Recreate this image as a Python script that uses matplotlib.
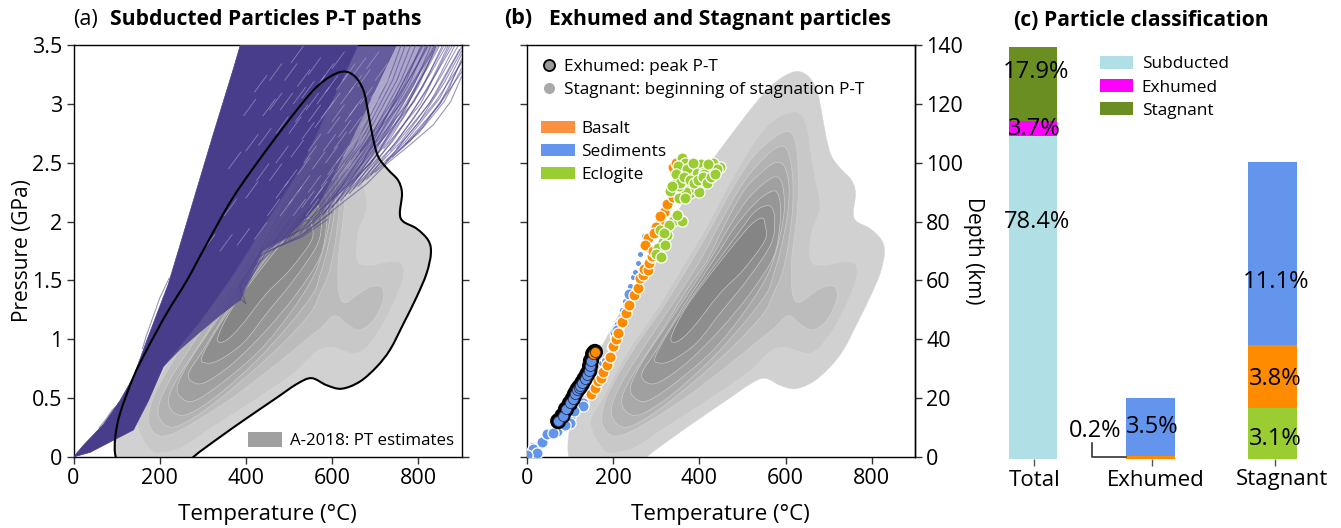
#%% imports
import numpy as np
import matplotlib
matplotlib.use('Agg')
import matplotlib.pyplot as plt
from matplotlib.path import Path
from matplotlib.patches import PathPatch, Patch
from matplotlib.lines import Line2D

plt.rcParams['font.family'] = ['Open Sans', 'DejaVu Sans']

#%% data: density contours as (T degC, P GPa), outer to inner
level1 = [(98,0),(97,.17),(108,.37),(139,.68),(170,.91),(216,1.22),(263,1.5),(309,1.81),(371,2.21),(448,2.61),
          (525,2.98),(572,3.17),(618,3.27),(649,3.245),(672,3.12),(684,2.92),(694,2.72),(707,2.55),(730,2.44),
          (753,2.35),(762,2.24),(757,2.07),(765,2.0),(796,1.94),(823,1.84),(829,1.73),(819,1.56),(796,1.36),
          (765,1.13),(734,.91),(703,.765),(664,.64),(622,.58),(587,.61),(552,.67),(518,.62),(470,.50),(402,.33),
          (340,.17),(278,0),(240,-.15),(120,-.15)]
level2 = [(148,.29),(178,.51),(232,.88),(301,1.25),(371,1.67),(417,1.955),(479,2.38),(533,2.70),(576,2.87),
          (626,2.93),(649,2.81),(660,2.55),(668,2.38),(680,2.125),(660,1.9),(658,1.67),(688,1.63),(734,1.66),
          (761,1.64),(765,1.53),(745,1.33),(718,1.13),(680,.935),(649,.88),(600,.93),(564,.895),(510,.71),
          (410,.46),(325,.26),(255,.09),(209,.04),(178,.06)]
level3 = [(174,.31),(189,.54),(247,.91),(317,1.28),(383,1.67),(430,1.97),(480,2.3),(525,2.55),(576,2.72),
          (610,2.76),(626,2.61),(630,2.295),(626,2.04),(614,1.67),(616,1.39),(630,1.31),(657,1.375),(688,1.445),
          (715,1.44),(718,1.33),(695,1.16),(664,1.08),(637,1.12),(606,1.2),(575,1.1),(541,1.0),(464,.77),
          (371,.51),(278,.29),(224,.19),(193,.19)]
level4 = [(196,.40),(220,.63),(278,.97),(340,1.31),(402,1.67),(450,2.0),(500,2.32),(540,2.5),(576,2.62),(602,2.62),
          (616,2.4),(616,2.1),(606,1.8),(592,1.56),(572,1.39),(549,1.22),(487,.97),(410,.71),(317,.43),(247,.27),(213,.27)]
level5 = [(220,.48),(243,.68),(309,1.05),(371,1.42),(418,1.67),(460,1.98),(505,2.27),(545,2.42),(576,2.5),(597,2.47),
          (608,2.3),(604,2.05),(588,1.75),(572,1.55),(556,1.39),(502,1.13),(425,.82),(340,.54),(270,.37),(236,.37)]
level6 = [(241,.60),(270,.82),(332,1.16),(394,1.50),(432,1.72),(470,1.96),(510,2.18),(545,2.31),(576,2.38),(592,2.32),
          (597,2.1),(582,1.8),(556,1.53),(502,1.22),(433,.91),(348,.64),(282,.48),(251,.50)]
level7 = [(267,.71),(301,.91),(363,1.28),(445,1.74),(480,1.94),(520,2.12),(550,2.22),(576,2.26),(587,2.17),
          (587,1.98),(572,1.70),(518,1.39),(448,1.08),(371,.80),(309,.64),(280,.63)]
level8 = [(298,.85),(332,1.08),(394,1.42),(458,1.74),(490,1.9),(525,2.07),(550,2.13),(568,2.12),(575,2.0),(565,1.8),
          (510,1.50),(448,1.22),(394,.97),(336,.82),(305,.80)]
level9 = [(335,1.02),(371,1.28),(440,1.62),(495,1.87),(522,1.98),(545,2.03),(552,1.98),(552,1.84),(502,1.59),
          (448,1.39),(383,1.09),(348,.98)]
levels = [level1,level2,level3,level4,level5,level6,level7,level8,level9]

# subducted particle paths: solid core, two thinner parts of the fan, then single paths
core_zone = [(0,0),(23,.10),(70,.28),(108,.48),(139,.68),(170,.99),(220,1.47),(270,2.08),(324,2.74),(371,3.3),(387,3.5),
             (660,3.5),(590,2.95),(530,2.47),(448,2.0),(371,1.55),(294,1.15),(208,.765),(174,.48),(139,.23),(100,.156),(39,.04)]
mid_zone = [(655,3.5),(750,3.5),(640,2.65),(570,2.15),(500,1.88),(440,1.75),(400,1.45),(386,1.33),(340,1.2),
            (294,1.06),(250,.92),(208,.765),(294,1.15),(371,1.55),(448,2.0),(530,2.47),(590,2.95)]
thin_zone = [(748,3.5),(840,3.5),(730,2.75),(650,2.35),(570,2.08),(570,2.15),(640,2.65)]
fan_paths = [
 [(386,1.33),(440,1.73),(525,1.87),(603,2.10),(680,2.32),(726,2.49),(780,2.65),(834,2.82),(875,3.02),(900,3.23)],
 [(726,2.52),(800,2.75),(860,3.02),(900,3.30)],
 [(700,2.42),(780,2.68),(850,3.0),(900,3.36)],
 [(680,2.36),(770,2.68),(850,3.05),(900,3.42)],
 [(660,2.30),(760,2.68),(840,3.08),(900,3.48)],
 [(640,2.24),(750,2.68),(830,3.1),(885,3.5)],
 [(620,2.18),(740,2.68),(820,3.12),(870,3.5)],
 [(600,2.12),(730,2.68),(810,3.14),(856,3.5)],
 [(590,2.08),(720,2.68),(800,3.15),(842,3.5)],
 [(570,2.02),(710,2.68),(790,3.16),(830,3.5)],
 [(555,1.98),(700,2.68),(780,3.18),(818,3.5)],
 [(540,1.93),(690,2.66),(770,3.18),(806,3.5)],
 [(525,1.90),(680,2.66),(760,3.2),(794,3.5)],
 [(510,1.88),(670,2.66),(750,3.2),(782,3.5)],
 [(500,1.85),(660,2.64),(740,3.2),(770,3.5)],
 [(490,1.83),(650,2.62),(730,3.2),(760,3.5)],
 [(740,2.55),(810,2.80),(870,3.12),(900,3.38)],
 [(720,2.48),(800,2.84),(860,3.18),(900,3.45)],
 [(690,2.40),(790,2.88),(850,3.22),(893,3.5)],
 [(670,2.34),(780,2.9),(840,3.25),(880,3.5)],
 [(650,2.28),(770,2.92),(830,3.27),(866,3.5)],
 [(630,2.22),(760,2.94),(820,3.3),(850,3.5)],
 [(610,2.16),(750,2.96),(810,3.32),(838,3.5)],
 [(580,2.06),(740,2.98),(800,3.34),(824,3.5)],
 [(440,1.74),(480,1.84),(540,1.95),(600,2.14)],
 [(430,1.70),(480,1.80),(540,1.91),(600,2.08)],
 [(420,1.62),(470,1.78),(530,1.87),(590,2.02)],
 [(400,1.46),(450,1.76),(520,1.92),(580,2.1)],
 [(386,1.35),(400,1.30),(385,1.45),(440,1.78)],
 [(540,2.0),(620,2.25),(690,2.5),(760,2.9),(820,3.35),(840,3.5)],
 [(640,2.3),(700,2.55),(770,2.95),(830,3.4),(842,3.5)],
 [(600,2.2),(670,2.5),(720,2.85),(780,3.3),(810,3.5)],
 [(665,2.6),(745,3.05),(812,3.5)],
 [(655,2.55),(755,3.05),(822,3.5)],
 [(645,2.5),(765,3.03),(834,3.45)],
 [(690,2.62),(775,3.0),(846,3.5)],
 [(705,2.65),(790,3.02),(860,3.5)],
 [(720,2.62),(805,3.0),(874,3.5)],
 [(735,2.6),(825,3.0),(895,3.46)],
 [(750,2.62),(840,3.02),(900,3.35)],
 [(770,2.66),(850,3.0),(900,3.27)],
 [(120,.5),(112,.42),(105,.46),(95,.35)],
 [(60,.25),(75,.32),(90,.40),(108,.46)],
 [(160,.92),(168,1.02),(200,1.35),(222,1.52)],
]
# pale gaps between the paths inside the dense part, lower ends (each runs 28 degC, 0.14 GPa)
gap_start = [(420,3.1),(455,3.2),(490,3.2),(520,3.15),(545,3.25),(575,3.2),(600,3.3),(625,3.2),(650,3.25),(680,3.3),(700,3.2),
 (440,2.9),(480,2.95),(510,3.0),(540,2.95),(565,3.0),(590,2.95),(620,3.0),(640,2.9),(665,3.0),(690,3.05),(710,3.1),
 (470,2.75),(500,2.75),(530,2.7),(560,2.8),(590,2.75),(615,2.72),(640,2.75),(665,2.8),(680,2.9),(650,2.6),(625,2.55),
 (470,2.5),(505,2.55),(535,2.5),(555,2.45),(585,2.5),(610,2.5),(635,2.45),(600,2.35),(575,2.3),(545,2.25),
 (425,2.35),(455,2.35),(490,2.3),(520,2.25),(550,2.15),(480,2.05),(510,2.05),(540,2.05),(450,2.05),(420,1.85),
 (380,1.8),(340,1.75),(300,1.75),(400,2.6),(430,2.65),(455,2.95),(395,2.9),(360,2.45),(400,2.2),(350,2.05),
 (505,3.35),(530,3.05),(555,3.1),(585,3.1),(610,3.12),(640,3.1),(660,3.15),(515,2.85),(545,2.85),(575,2.88),(600,2.85),(630,2.85),
 (660,2.7),(605,2.62),(580,2.6),(545,2.6),(520,2.4),(590,2.4),(615,2.38),(560,2.2),(530,2.12),(500,2.15),(470,2.2)]

# scatter particles: T degC, depth km
sed_T = [14,23,0,35,46,70,100,120,131,147,130,100,238,213,205,210,62,88,110]
sed_d = [2.8,1.4,.6,5.1,7.7,9,13.6,17.6,18.4,22,17.2,11.5,55.3,44.9,42.6,43,8,11,15.5]
sed_small_T = [5,12,28,40,55,80,95,115,140,160,172,180,192,200,222,228,240,247,252,259,262,268,272]
sed_small_d = [2,4,3.5,6.5,9,10,14,15.5,21,28,32,33,37,41,50,53,58,61,63,66,69,72,75]
bas_T = [149,158,166,172,178,187,193,201,206,212,220,229,238,248,257,263,270,272,280,284,290,290,282,301,309,319,326,338,340,345,300,294,310,275,292]
bas_d = [21.4,23.5,25.7,27,29,31.3,34,37.8,40,42,46,49,51.7,55,57.5,60.7,62,64,63.5,65.8,67.8,68.2,74.4,79,80,83.2,86,88.5,98.7,100,78,76,82,72,70]
ecl_T = [359,448,359,367,390,414,425,405,387,417,359,381,332,348,402,379,359,340,359,348,315,325,309,305,300,320,375,395,410,432,440,350,370,392,372,412,385,362,400,352,420,
         345,355,365,378,388,398,408,418,428,436,352,368,336,330,312,318]
ecl_d = [101.6,98.7,97,99.9,98.7,98.7,97,99.5,94.8,94.8,91.4,92.9,90.3,94.2,92.5,89.7,97.6,80.1,80.3,82.4,73.1,75.6,77.3,71,69,72,96,96.5,97,100,98,99,90,91,98,96,100,94,90,92,99.7,
         96,93,95,94,93,94,95,93,95,96,88,88,92,79,68,76]
exh_sed_T = [73,83,91,100,107,112,117,121,124,129,134,140,145,147,149]
exh_sed_d = [12.2,14,16.2,18.2,19.8,21.4,22.7,23.5,24,25.2,26.5,28,29.3,31,32.7]
exh_bas_T = [154,158]
exh_bas_d = [35,35.7]

# bars, percent of all particles
bar_names = ['Total','Exhumed','Stagnant']
total_vals = [78.4,3.7,17.9]
exhumed_vals = [0.2,3.5]
stagnant_vals = [3.1,3.8,11.1]

xticks_T = [0,200,400,600,800]
yticks_P = [0,.5,1,1.5,2,2.5,3,3.5]
yticklabels_P = ['0','0.5','1','1.5','2','2.5','3','3.5']
yticks_d = [0,20,40,60,80,100,120,140]

#%% figure helpers
W,H = 1341,528
PURPLE = '#483d8b'
fig = plt.figure(figsize=(W/100,H/100),dpi=100)

def make_axes(l,t,r,b):
    return fig.add_axes([l/W,1-b/H,(r-l)/W,(b-t)/H])

def ftext(x,y,s,**kw):
    fig.text(x/W,1-y/H,s,va='center',**kw)

def smooth(pts):
    # closed catmull-rom outline as bezier path
    p = np.array(pts,dtype=float)
    n = len(p)
    verts = [p[0]]
    codes = [Path.MOVETO]
    for i in range(n):
        p0,p1,p2,p3 = p[i-1],p[i],p[(i+1)%n],p[(i+2)%n]
        verts += [p1+(p2-p0)/6,p2-(p3-p1)/6,p2]
        codes += [Path.CURVE4]*3
    return Path(verts,codes)

def draw_levels(ax):
    greys = ['#d1d1d1','#c8c8c8','#bcbcbc','#b2b2b2','#a9a9a9','#a0a0a0','#979797','#8e8e8e','#858585']
    for lev,c in zip(levels,greys):
        ax.add_patch(PathPatch(smooth(lev),fc=c,ec='#d4d4d4',lw=.4,zorder=1))

def style_pt(ax):
    ax.set_xlim(0,900)
    ax.set_ylim(0,3.5)
    ax.set_xticks(xticks_T)
    ax.set_yticks(yticks_P)
    ax.tick_params(labelsize=15.5,length=5,width=1,color='#333333',pad=3)
    ax.set_xlabel('Temperature (°C)',fontsize=16,labelpad=11)
    for s in ax.spines.values():
        s.set_linewidth(1)

#%% panel a
ax1 = make_axes(73.5,45,461.5,457)
draw_levels(ax1)
ax1.add_patch(plt.Polygon(thin_zone,fc=PURPLE,ec='none',alpha=.45,zorder=2))
ax1.add_patch(plt.Polygon(mid_zone,fc=PURPLE,ec='none',alpha=.84,zorder=2))
ax1.add_patch(plt.Polygon(core_zone,fc=PURPLE,ec=PURPLE,lw=.5,zorder=3))
for path in fan_paths:
    pts = np.array(path)
    ax1.plot(pts[:,0],pts[:,1],color=PURPLE,lw=.8,alpha=.55,zorder=3)
for t,p in gap_start:
    ax1.plot([t,t+28],[p,p+.14],color='#bdb8dc',lw=.6,alpha=.55,zorder=3)
ax1.add_patch(PathPatch(smooth(level1),fc='none',ec='black',lw=1.5,zorder=4))
style_pt(ax1)
ax1.set_yticklabels(yticklabels_P)
ax1.tick_params(right=True)
ax1.set_ylabel('Pressure (GPa)',fontsize=15,labelpad=-1)
ax1.legend(handles=[Patch(fc='#a0a0a0',ec='none',label='A-2018: PT estimates')],loc='lower right',frameon=False,
           fontsize=12.2,handlelength=2.0,handleheight=1.0,handletextpad=.45,borderaxespad=.15,borderpad=.3)

#%% panel b
ax2 = make_axes(526.7,45,915,457)
draw_levels(ax2)
marker = dict(edgecolors='white',linewidths=.9,s=65,zorder=3)
ax2.scatter(sed_small_T,np.array(sed_small_d)/40,c='cornflowerblue',edgecolors='white',linewidths=.8,s=20,zorder=3)
ax2.scatter(sed_T,np.array(sed_d)/40,c='cornflowerblue',**marker)
ax2.scatter(bas_T,np.array(bas_d)/40,c='darkorange',**marker)
ax2.scatter(ecl_T,np.array(ecl_d)/40,c='yellowgreen',**marker)
ax2.scatter(exh_sed_T+exh_bas_T,(np.array(exh_sed_d+exh_bas_d))/40,c='none',edgecolors='black',linewidths=3,s=75,zorder=4)
ax2.scatter(exh_sed_T,np.array(exh_sed_d)/40,c='cornflowerblue',edgecolors='#27324f',linewidths=.6,s=52,zorder=5)
ax2.scatter(exh_bas_T,np.array(exh_bas_d)/40,c='darkorange',edgecolors='#4a3010',linewidths=.6,s=52,zorder=5)
style_pt(ax2)
ax2.set_yticklabels([])
depth = ax2.secondary_yaxis('right',functions=(lambda p:p*40,lambda d:d/40))
depth.set_yticks(yticks_d)
depth.tick_params(labelsize=15.5,length=5,width=1,color='#333333',pad=3)
depth.set_ylabel('Depth (km)',fontsize=15,rotation=270,labelpad=15)
depth.spines['right'].set_linewidth(1)
h1 = [Line2D([],[],ls='',marker='o',ms=8,mfc='#999999',mec='black',mew=1.3,label='Exhumed: peak P-T'),
      Line2D([],[],ls='',marker='o',ms=8,mfc='#aaaaaa',mec='none',label='Stagnant: beginning of stagnation P-T')]
leg1 = ax2.legend(handles=h1,loc='upper left',bbox_to_anchor=(.005,.975),frameon=False,fontsize=12.4,
                  handletextpad=-.15,labelspacing=.4,borderpad=.2,borderaxespad=0)
ax2.add_artist(leg1)
h2 = [Patch(fc='#ff9040',ec='none',label='Basalt'),Patch(fc='cornflowerblue',ec='none',label='Sediments'),
      Patch(fc='yellowgreen',ec='none',label='Eclogite')]
ax2.legend(handles=h2,loc='upper left',bbox_to_anchor=(.028,.825),frameon=False,fontsize=12.4,
           handlelength=1.95,handleheight=.72,handletextpad=.4,labelspacing=.4,borderpad=.2,borderaxespad=0)

#%% panel c - total bar on its own scale, the two others are 4x larger
ax3 = make_axes(990,46.7,1330,459.3)
ax3b = ax3.twinx()
ax3.set_xlim(-.359,2.48)
ax3.set_ylim(0,100)
ax3b.set_ylim(0,25)
bar_x = [0,.98,2]
w = .409
ax3.bar(bar_x[0],total_vals[0],w,color='powderblue')
ax3.bar(bar_x[0],total_vals[1],w,bottom=total_vals[0],color='magenta')
ax3.bar(bar_x[0],total_vals[2],w,bottom=total_vals[0]+total_vals[1],color='olivedrab')
ax3b.bar(bar_x[1],exhumed_vals[0],w,color='darkorange')
ax3b.bar(bar_x[1],exhumed_vals[1],w,bottom=exhumed_vals[0],color='cornflowerblue')
ax3b.bar(bar_x[2],stagnant_vals[0],w,color='yellowgreen')
ax3b.bar(bar_x[2],stagnant_vals[1],w,bottom=stagnant_vals[0],color='darkorange')
ax3b.bar(bar_x[2],stagnant_vals[2],w,bottom=stagnant_vals[0]+stagnant_vals[1],color='cornflowerblue')
for a in (ax3,ax3b):
    for s in a.spines.values():
        s.set_visible(False)
ax3b.set_yticks([])
ax3.set_yticks([])
ax3.set_xticks([bar_x[0]+.01,bar_x[1]+.01,bar_x[2]+.02])
ax3.set_xticklabels([])
ax3.tick_params(length=5,width=1,color='#555555')
ftext(1035,480,bar_names[0],ha='center',fontsize=16)
ftext(1156,480,bar_names[1],ha='center',fontsize=16)
ftext(1282,480,bar_names[2],ha='center',fontsize=16)
ax3.legend(handles=[Patch(fc='powderblue',label='Subducted'),Patch(fc='magenta',label='Exhumed'),Patch(fc='olivedrab',label='Stagnant')],
           loc='upper left',bbox_to_anchor=(.312,.985),frameon=False,fontsize=12.4,handlelength=1.95,handleheight=.72,
           handletextpad=.5,labelspacing=.4,borderpad=.2,borderaxespad=0)
fig.add_artist(Line2D([1091.7/W,1091.7/W,1126/W],[1-442.7/H,1-456.7/H,1-456.7/H],color='#333333',lw=1.2))
for x,y,s in [(1036,72,'17.9%'),(1034,129,'3.7%'),(1037,222,'78.4%'),(1095,431,'0.2%'),(1152,427,'3.5%'),
              (1276,282,'11.1%'),(1275,379,'3.8%'),(1275,439,'3.1%')]:
    ftext(x,y,s,ha='center',fontsize=17,zorder=10)

#%% titles
ftext(73,20,'(a)',fontsize=15.5,fontweight='medium')
ftext(110,20,'Subducted Particles P-T paths',fontsize=15.2,fontweight='bold')
ftext(504,19,'(b)',fontsize=15.5,fontweight='bold')
ftext(549,20,'Exhumed and Stagnant particles',fontsize=15.2,fontweight='bold')
ftext(1013,20,'(c)',fontsize=15.2,fontweight='bold')
ftext(1044,20,'Particle classification',fontsize=15.2,fontweight='bold')

fig.savefig('out.png',dpi=100)
